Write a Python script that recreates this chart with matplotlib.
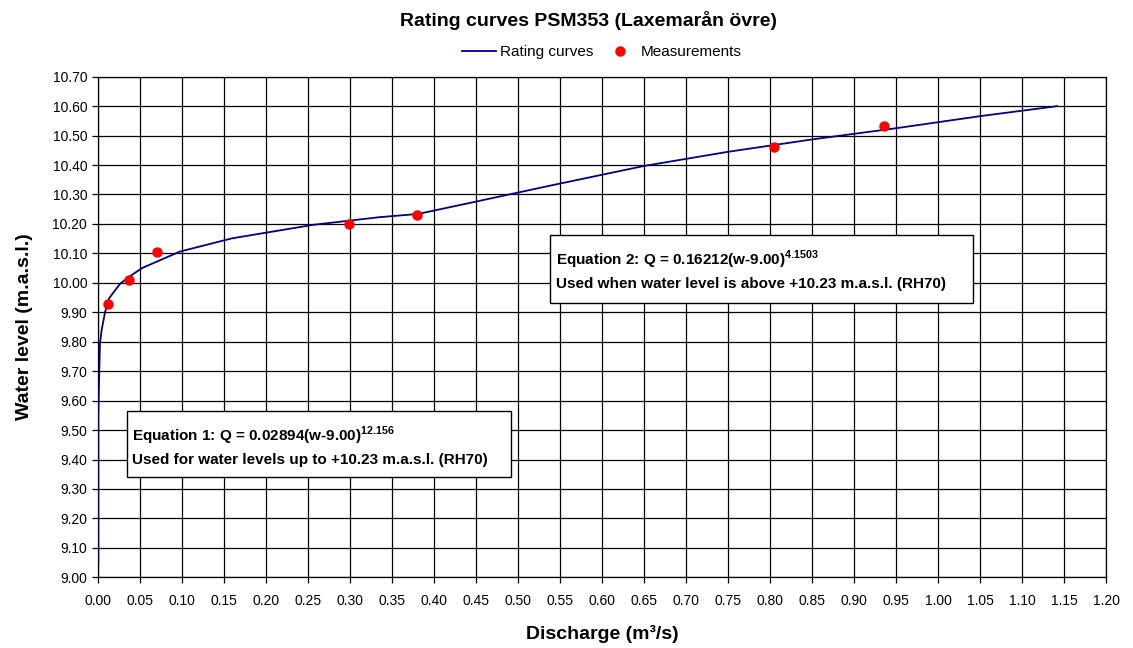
import numpy as np
import matplotlib
matplotlib.use("Agg")
import matplotlib.pyplot as plt
from matplotlib.patches import Rectangle

plt.rcParams['font.family'] = ['Liberation Sans', 'DejaVu Sans']
plt.rcParams['mathtext.fontset'] = 'custom'
plt.rcParams['mathtext.rm'] = 'Liberation Sans'
plt.rcParams['mathtext.bf'] = 'Liberation Sans:bold'

# rating curve (discharge m3/s, water level m.a.s.l.)
q_curve = [0.0, 0.0, 0.0008, 0.002, 0.004, 0.008, 0.013, 0.026, 0.037, 0.052, 0.097,
           0.159, 0.256, 0.335, 0.381, 0.45, 0.538, 0.65, 0.75, 0.85, 0.95, 1.05, 1.142]
w_curve = [9.05, 9.55, 9.66, 9.795, 9.84, 9.90, 9.948, 9.997, 10.021, 10.05, 10.106,
           10.151, 10.197, 10.223, 10.234, 10.276, 10.330, 10.397, 10.445, 10.487, 10.525, 10.566, 10.60]

# measurements
q_meas = [0.012, 0.037, 0.070, 0.299, 0.380, 0.805, 0.936]
w_meas = [9.929, 10.010, 10.106, 10.200, 10.232, 10.460, 10.534]

title = "Rating curves PSM353 (Laxemarån övre)"
eq1 = [r"Equation 1: Q = 0.02894(w-9.00)$^{\mathbf{12.156}}$",
       "Used for water levels up to +10.23 m.a.s.l. (RH70)"]
eq2 = [r"Equation 2: Q = 0.16212(w-9.00)$^{\mathbf{4.1503}}$",
       "Used when water level is above +10.23 m.a.s.l. (RH70)"]

W, H = 1133, 648
fig = plt.figure(figsize=(W / 100, H / 100), dpi=100)
ax = fig.add_axes([98.3 / W, 1 - 577.3 / H, (1106 - 98.3) / W, (577.3 - 76.7) / H])

ax.plot(q_curve, w_curve, color='#000080', lw=1.3, label='Rating curves', zorder=3)
ax.plot(q_meas, w_meas, 'o', color='red', ms=6.5, mec='red', label='Measurements', zorder=4)

ax.set_xlim(0, 1.2)
ax.set_ylim(9.0, 10.7)
ax.set_xticks(np.arange(0, 1.2001, 0.05))
ax.set_yticks(np.arange(9.0, 10.7001, 0.1))
ax.xaxis.set_major_formatter(matplotlib.ticker.FormatStrFormatter('%.2f'))
ax.yaxis.set_major_formatter(matplotlib.ticker.FormatStrFormatter('%.2f'))
ax.tick_params(direction='out', length=4, width=0.9, labelsize=10, color='black', pad=4)
ax.tick_params(axis='x', pad=8)
ax.grid(True, color='black', lw=0.9, zorder=0)
ax.set_axisbelow(True)
for s in ax.spines.values():
    s.set_color('black')
    s.set_linewidth(0.9)

ax.set_xlabel("Discharge (m³/s)", fontsize=14, fontweight='bold', labelpad=12)
ax.set_ylabel("Water level (m.a.s.l.)", fontsize=14, fontweight='bold', labelpad=14)

fig.text(588 / W, 1 - 20 / H, title, fontsize=14, fontweight='bold', ha='center', va='center')

ax.legend(loc='center', bbox_to_anchor=(602 / W, 1 - 52 / H), bbox_transform=fig.transFigure,
          ncol=2, frameon=False, fontsize=11, handlelength=2.2, handletextpad=0.3,
          columnspacing=0.6)

# equation boxes (pixel positions from the reference)
def eq_box(x0, y0, x1, y1, tx, ty1, ty2, lines):
    fig.add_artist(Rectangle((x0 / W, 1 - y1 / H), (x1 - x0) / W, (y1 - y0) / H,
                             transform=fig.transFigure, facecolor='white',
                             edgecolor='black', lw=1.0, zorder=5))
    fig.text(tx / W, 1 - ty1 / H, lines[0], fontsize=11, fontweight='bold',
             ha='left', va='center', zorder=6)
    fig.text(tx / W, 1 - ty2 / H, lines[1], fontsize=11, fontweight='bold',
             ha='left', va='center', zorder=6)

eq_box(126.7, 410.7, 510.7, 476.7, 132, 436, 460, eq1)
eq_box(550, 235, 973, 303, 556, 260, 284, eq2)

fig.savefig("out.png", dpi=100)
